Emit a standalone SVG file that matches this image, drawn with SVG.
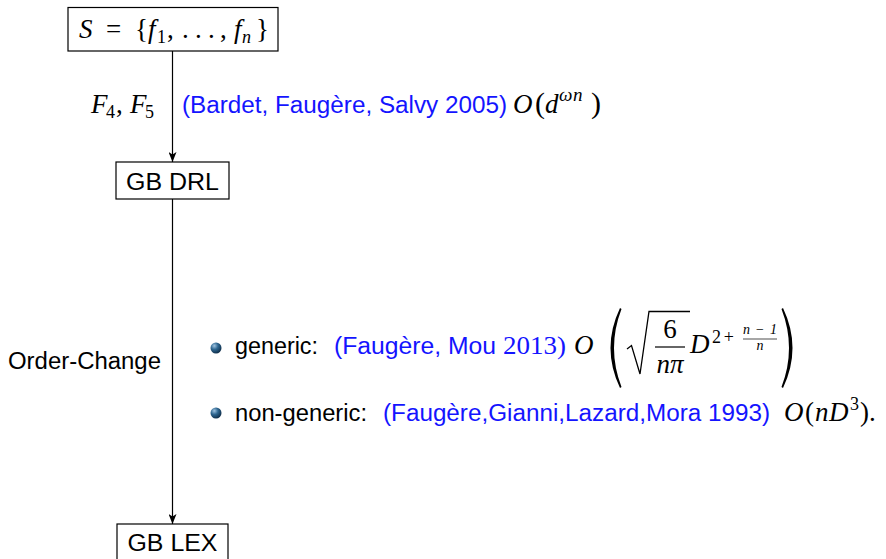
<svg xmlns="http://www.w3.org/2000/svg" width="886" height="559" viewBox="0 0 886 559">
  <defs>
    <style>
      .box { fill: #ffffff; stroke: #000000; stroke-width: 1.2; }
      .edge { fill: none; stroke: #000000; stroke-width: 1.2; }
      .sans { font-family: "Liberation Sans", Arial, sans-serif; font-size: 23px; fill: #000000; }
      .cite { font-family: "Liberation Sans", Arial, sans-serif; font-size: 23px; fill: #1414ff; }
      .math { font-family: "Liberation Serif", "Times New Roman", serif; font-size: 27px; fill: #000000; }
      .mi { font-style: italic; }
      .sub { font-size: 18px; }
      .tiny { font-size: 14px; }
      .rule { stroke: #000000; fill: none; }
    </style>
    <marker id="tip" viewBox="0 0 10 8" refX="10" refY="4" markerWidth="10" markerHeight="8" markerUnits="userSpaceOnUse" orient="auto">
      <path d="M0,0 L10,4 L0,8 L2.5,4 z" fill="#000000"/>
    </marker>
    <radialGradient id="ball" cx="0.35" cy="0.3" r="0.75">
      <stop offset="0" stop-color="#9fc3e0"/>
      <stop offset="0.45" stop-color="#2e6690"/>
      <stop offset="1" stop-color="#0c2a45"/>
    </radialGradient>
  </defs>

  <!-- connectors -->
  <g id="connectors">
    <line class="edge" x1="172.5" y1="51" x2="172.5" y2="162" marker-end="url(#tip)"/>
    <line class="edge" x1="172.5" y1="199" x2="172.5" y2="524" marker-end="url(#tip)"/>
  </g>

  <!-- input system -->
  <g id="node-S">
    <rect class="box" x="68" y="7.5" width="210" height="43.5"/>
    <text class="math" y="38"><tspan class="mi" x="79">S</tspan><tspan x="106">=</tspan><tspan x="135">{</tspan><tspan class="mi" x="148">f</tspan><tspan class="sub" x="157" dy="5">1</tspan><tspan x="167" dy="-5">,</tspan><tspan x="182">.</tspan><tspan x="195">.</tspan><tspan x="208">.</tspan><tspan x="220">,</tspan><tspan class="mi" x="234">f</tspan><tspan class="mi sub" x="242" dy="5">n</tspan><tspan x="256" dy="-5">}</tspan></text>
  </g>

  <!-- DRL basis -->
  <g id="node-drl">
    <rect class="box" x="116" y="162" width="113" height="37"/>
    <text class="sans" x="172.5" y="190" text-anchor="middle" textLength="93" lengthAdjust="spacingAndGlyphs">GB DRL</text>
  </g>

  <!-- LEX basis -->
  <g id="node-lex">
    <rect class="box" x="117" y="524" width="111" height="40"/>
    <text class="sans" x="172.5" y="551" text-anchor="middle" textLength="90" lengthAdjust="spacingAndGlyphs">GB LEX</text>
  </g>

  <!-- first step labels -->
  <g id="label-f4f5">
    <text class="math" y="113"><tspan class="mi" x="91">F</tspan><tspan class="sub" x="106" dy="5">4</tspan><tspan x="116" dy="-5">,</tspan><tspan class="mi" x="130">F</tspan><tspan class="sub" x="145" dy="5">5</tspan></text>
    <text class="cite" x="182" y="113" textLength="325" lengthAdjust="spacingAndGlyphs">(Bardet, Faugère, Salvy 2005)</text>
    <text class="math mi" x="513" y="113">O</text>
    <text class="math" x="535" y="113" style="font-size:30px">(</text>
    <text class="math mi" x="545" y="113">d</text>
    <text class="math mi" x="559" y="101" style="font-size:19px">ω<tspan x="573">n</tspan></text>
    <text class="math" x="591" y="113" style="font-size:30px">)</text>
  </g>

  <!-- second step labels -->
  <g id="label-order">
    <text class="sans" x="8" y="369" textLength="153" lengthAdjust="spacingAndGlyphs">Order-Change</text>

    <!-- generic case -->
    <circle cx="216" cy="348" r="5.5" fill="url(#ball)"/>
    <text class="sans" x="235" y="354" textLength="83" lengthAdjust="spacingAndGlyphs">generic:</text>
    <text class="cite" x="334" y="354" textLength="162" lengthAdjust="spacingAndGlyphs">(Faugère, Mou</text>
    <text class="math" x="503" y="354" textLength="63" lengthAdjust="spacingAndGlyphs" style="fill:#1414ff;font-size:26px">2013)</text>
    <text class="math mi" x="574" y="354">O</text>
    <path d="M620,308 Q601,348 620,388 L621.5,387 Q606.5,348 621.5,309 Z" fill="#000000"/>
    <path class="rule" d="M627,349 L631.5,345.5 L640,374 L649,311.5 L690,311.5" stroke-width="1.3"/>
    <text class="math" x="670" y="338" text-anchor="middle">6</text>
    <line class="rule" x1="655" y1="347" x2="685" y2="347" stroke-width="1.2"/>
    <text class="math mi" x="670" y="373" text-anchor="middle">nπ</text>
    <text class="math mi" x="690" y="353">D</text>
    <text class="math sub" x="712" y="343" textLength="22" lengthAdjust="spacing">2+</text>
    <text class="math mi tiny" x="743" y="334" textLength="34" lengthAdjust="spacing">n<tspan font-style="normal">−</tspan>1</text>
    <line class="rule" x1="743" y1="339" x2="777" y2="339" stroke-width="0.7"/>
    <text class="math mi tiny" x="760" y="350" text-anchor="middle">n</text>
    <path d="M783,308 Q802,348 783,388 L781.5,387 Q796.5,348 781.5,309 Z" fill="#000000"/>

    <!-- non-generic case -->
    <circle cx="216" cy="413" r="5.5" fill="url(#ball)"/>
    <text class="sans" x="235" y="421" textLength="132" lengthAdjust="spacingAndGlyphs">non-generic:</text>
    <text class="cite" x="383" y="421" textLength="387" lengthAdjust="spacingAndGlyphs">(Faugère,Gianni,Lazard,Mora 1993)</text>
    <text class="math" y="421"><tspan class="mi" x="784">O</tspan><tspan x="805">(</tspan><tspan class="mi" x="815">n</tspan><tspan class="mi" x="829">D</tspan><tspan class="sub" x="850" dy="-11">3</tspan><tspan x="860" dy="11">).</tspan></text>
  </g>
</svg>
